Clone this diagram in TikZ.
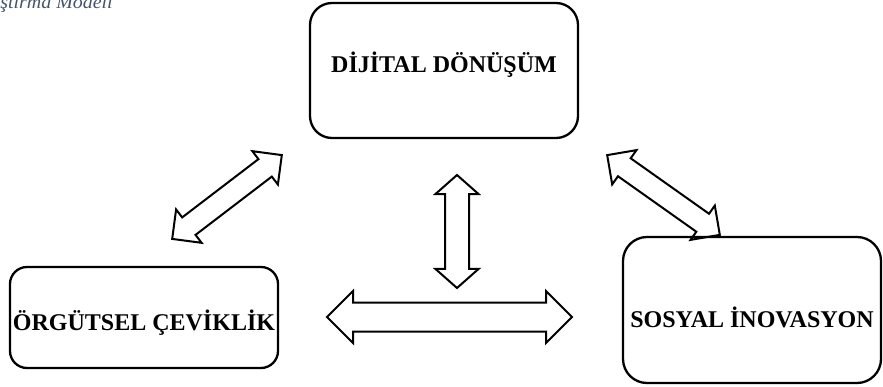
\documentclass[tikz,border=0pt]{standalone}
\usepackage{fontspec}
\setmainfont{Liberation Serif}
\usetikzlibrary{shapes.arrows}
\definecolor{captiongrey}{HTML}{44546A}
\tikzset{
  conceptbox/.style={draw, line width=2.3pt, inner sep=0pt,
    font=\fontsize{24}{28}\selectfont\bfseries},
  twoway/.style={draw, line width=2pt, double arrow, inner xsep=0pt,
    shape border uses incircle=false}
}
\begin{document}
\begin{tikzpicture}[x=1pt,y=-1pt]
\useasboundingbox (0,0) rectangle (883,387);

% figure caption, partly outside the page edge
\node[anchor=base east, inner sep=0pt, text=captiongrey, xscale=1.05,
  font=\fontsize{19}{22}\selectfont\itshape] (cap) at (113,9) {Araştırma Modeli};

% the three concepts
\node[conceptbox, minimum width=268pt, minimum height=135pt, rounded corners=22pt,
  text height=12pt, text depth=7pt] (dd) at (444,70.5) {DİJİTAL DÖNÜŞÜM};
\node[conceptbox, minimum width=268pt, minimum height=101pt, rounded corners=17pt,
  text height=25pt, text depth=0pt] (oc) at (144,317.5) {ÖRGÜTSEL ÇEVİKLİK};
\node[conceptbox, minimum width=258pt, minimum height=146pt, rounded corners=24pt,
  text height=34pt, text depth=0pt] (si) at (752,310) {SOSYAL İNOVASYON};

% two-way block arrows between the concepts (shaft = 2 x inner ysep)
\node[twoway, minimum height=138pt, inner ysep=10pt,
  double arrow head extend=10pt, double arrow tip angle=90,
  rotate=37.4] (a1) at (227,197) {};
\node[twoway, minimum height=138pt, inner ysep=10pt,
  double arrow head extend=10pt, double arrow tip angle=90,
  rotate=-35.3] (a2) at (663.5,195) {};
\node[twoway, minimum height=113pt, inner ysep=11pt,
  double arrow head extend=9.5pt, double arrow tip angle=97,
  rotate=90] (a3) at (457,231.5) {};
\node[twoway, minimum height=245pt, inner ysep=13.5pt,
  double arrow head extend=11.5pt, double arrow tip angle=90] (a4) at (449.5,317) {};
\end{tikzpicture}
\end{document}
